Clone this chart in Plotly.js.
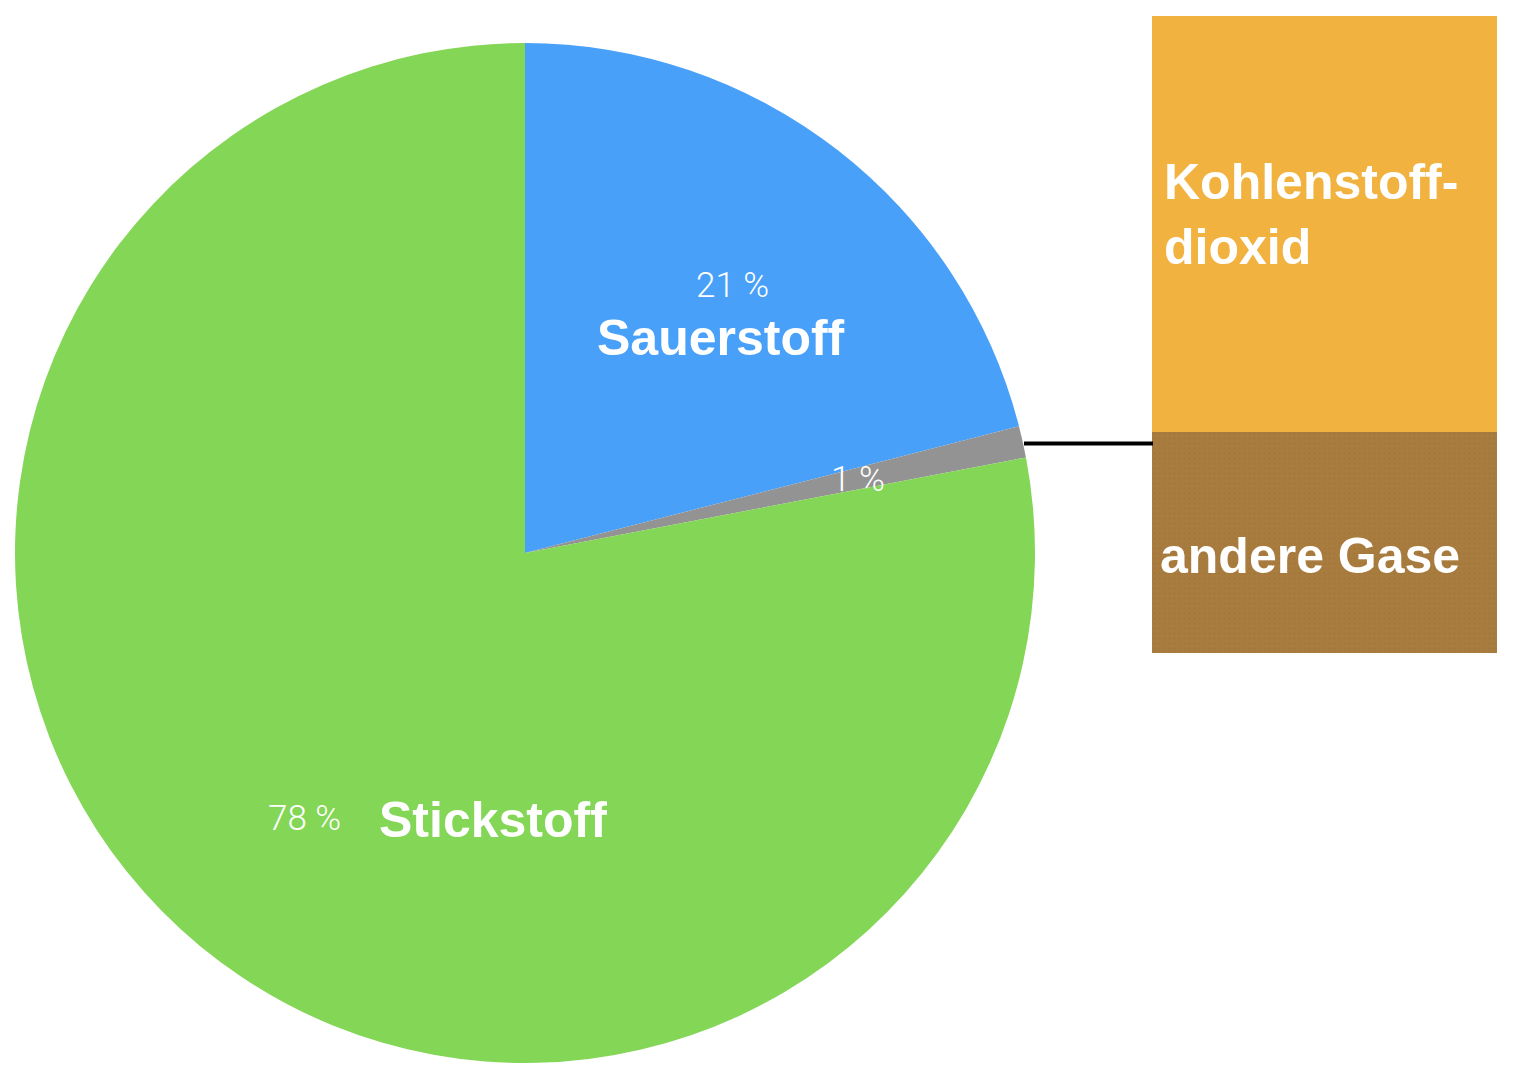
<!DOCTYPE html>
<html>
<head>
<meta charset="utf-8">
<script src="https://cdn.plot.ly/plotly-3.0.1.min.js"></script>
<style>html,body{margin:0;padding:0;background:#fff;}#chart{width:1524px;height:1074px;}</style>
</head>
<body>
<div id="chart"></div>
<script>
// Pie data (Zusammensetzung der Luft)
var pieLabels = ["Sauerstoff", "Sonstige", "Stickstoff"];
var pieValues = [21, 1, 78];
var pieColors = ["#48A0F8", "#939393", "#83D656"];

// Breakdown bar of the 1 % slice
var barLabels = ["andere Gase", "Kohlenstoff-<br>dioxid"];
var barValues = [34.7, 65.3];
var barColors = ["#A87B3E", "#F1B23F"];

var W = 1524, H = 1074;
function px(x){ return x / W; }
function py(y){ return 1 - y / H; }

var traces = [{
  type: "pie",
  labels: pieLabels,
  values: pieValues,
  marker: {colors: pieColors, line: {width: 0}},
  sort: false,
  direction: "clockwise",
  rotation: 0,
  textinfo: "none",
  hoverinfo: "label+value",
  showlegend: false,
  domain: {x: [px(15), px(1035)], y: [py(1063), py(43)]}
}];

for (var i = 0; i < barLabels.length; i++) {
  var tr = {
    type: "bar",
    x: [0],
    y: [barValues[i]],
    name: barLabels[i],
    width: 1,
    marker: {color: barColors[i], line: {width: 0}},
    xaxis: "x",
    yaxis: "y",
    showlegend: false,
    hoverinfo: "name+y"
  };
  if (i === 0) {
    tr.marker.pattern = {shape: ".", fgcolor: "#9C7036", bgcolor: barColors[i], size: 5, solidity: 0.15, fgopacity: 0.5};
  }
  traces.push(tr);
}

var pctFont = {family: "Roboto, 'Liberation Sans', sans-serif", size: 35, color: "#ffffff", weight: 300};
var lblFont = {family: "'Liberation Sans', Arial, sans-serif", size: 50, color: "#ffffff", weight: 700};

var annotations = [
  {x: px(732), y: py(285), text: pieValues[0] + " %", font: pctFont},
  {x: px(721), y: py(338), text: pieLabels[0], font: lblFont},
  {x: px(858), y: py(480), text: pieValues[1] + " %", font: pctFont},
  {x: px(304), y: py(818), text: pieValues[2] + " %", font: pctFont},
  {x: px(493), y: py(820), text: pieLabels[2], font: lblFont},
  {x: px(1162), y: py(214), text: barLabels[1], font: lblFont, xanchor: "left", align: "left"},
  {x: px(1158), y: py(556), text: barLabels[0], font: lblFont, xanchor: "left", align: "left"}
].map(function(a){
  return Object.assign({xref: "paper", yref: "paper", showarrow: false, xanchor: "center", yanchor: "middle"}, a);
});

var layout = {
  width: W, height: H,
  margin: {l: 0, r: 0, t: 0, b: 0, pad: 0},
  paper_bgcolor: "#ffffff",
  plot_bgcolor: "rgba(0,0,0,0)",
  showlegend: false,
  barmode: "stack",
  bargap: 0,
  xaxis: {domain: [px(1152), px(1497)], range: [-0.5, 0.5], visible: false, fixedrange: true},
  yaxis: {domain: [py(653), py(16)], range: [0, 100], visible: false, fixedrange: true},
  annotations: annotations,
  shapes: [{
    type: "line", xref: "paper", yref: "paper",
    x0: px(1024), x1: px(1153), y0: py(443.5), y1: py(443.5),
    line: {color: "#000000", width: 4}
  }]
};

Plotly.newPlot("chart", traces, layout, {displayModeBar: false, staticPlot: true});
</script>
</body>
</html>
